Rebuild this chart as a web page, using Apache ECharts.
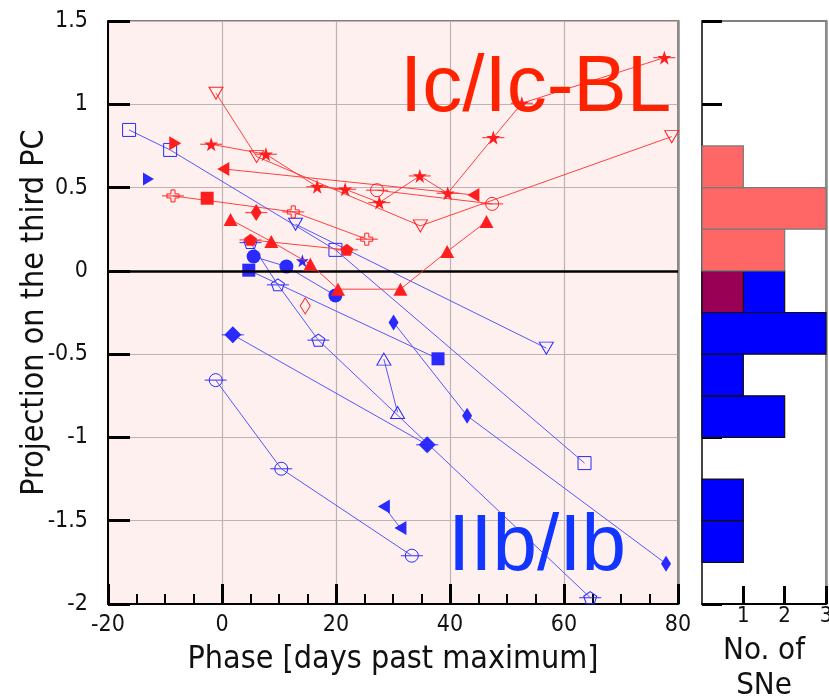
<!DOCTYPE html>
<html>
<head>
<meta charset="utf-8">
<script src="https://cdn.jsdelivr.net/npm/echarts@6/dist/echarts.min.js"></script>
<style>
  html, body { margin: 0; padding: 0; background: #ffffff; }
  #chart { width: 829px; height: 697px; }
</style>
</head>
<body>
<div id="chart"></div>
<script>
// ---- Ic / Ic-BL supernovae: [phase, projection on PC3] ----
const redStar        = [[-1.9, 0.76], [7.7, 0.70], [16.7, 0.505], [21.6, 0.49], [27.6, 0.41], [34.7, 0.57], [39.6, 0.466], [47.6, 0.80], [52.6, 1.006], [77.6, 1.28]];
const redTriDown     = [[-1.05, 1.066], [6.07, 0.686], [34.8, 0.27], [78.9, 0.806]];
const redOpenCircle  = [[27.2, 0.484], [47.4, 0.402]];
const redLeftTri     = [[0.23, 0.612], [44.1, 0.456]];
const redRightTri    = [[-8.2, 0.766]];
const redCross       = [[-8.6, 0.45], [12.5, 0.354], [25.4, 0.19]];
const redSquare      = [[-2.6, 0.436]];
const redDiamond     = [[6.0, 0.35]];
const redTriUp       = [[1.5, 0.308], [8.65, 0.176], [15.5, 0.04], [20.35, -0.11], [31.3, -0.11], [39.5, 0.116], [46.4, 0.296]];
const redPentagon    = [[5.0, 0.186], [21.9, 0.126]];
const redOpenDiamond = [[14.6, -0.21]];

// ---- IIb / Ib supernovae ----
const blueOpenSquare = [[-16.3, 0.846], [-9.1, 0.726], [19.9, 0.126], [63.6, -1.154]];
const blueRightTri   = [[-12.9, 0.552]];
const blueTriDown    = [[12.9, 0.28], [56.9, -0.464]];
const blueCircle     = [[5.55, 0.086], [11.3, 0.026], [19.9, -0.148]];
const blueSquare     = [[4.7, 0.004], [37.9, -0.528]];
const blueStar       = [[14.1, 0.06]];
const bluePentagon   = [[5.0, 0.17], [9.8, -0.084], [16.9, -0.416], [64.6, -1.962]];
const blueTriUp      = [[28.4, -0.53], [30.8, -0.85]];
const blueDiamondA   = [[1.9, -0.384], [36.0, -1.044]];
const blueDiamondB   = [[30.1, -0.31], [43.0, -0.87], [77.9, -1.758]];
const blueOpenCircle = [[-1.1, -0.656], [10.4, -1.188], [33.3, -1.71]];
const blueLeftTri    = [[28.4, -1.414], [31.3, -1.544]];

// ---- histogram of PC3 projections (bins of 0.25) ----
const binLow      = [-2, -1.75, -1.5, -1.25, -1, -0.75, -0.5, -0.25, 0, 0.25, 0.5, 0.75, 1, 1.25];
const binWidth    = 0.25;
const redCounts   = [0, 0, 0, 0, 0, 0, 0, 1, 2, 3, 1, 0, 0, 0];
const blueCounts  = [0, 1, 1, 0, 2, 1, 3, 2, 0, 0, 0, 0, 0, 0];

// ---- axes ----
const phaseTicks = { min: -20, max: 80, interval: 20 };
const pcTicks    = { min: -2, max: 1.5, interval: 0.5 };
const countTicks = [1, 2, 3];

const RED = '#ff1e1e', RED_LINE = 'rgba(255,45,45,0.9)';
const BLUE = '#2a2aff', BLUE_LINE = '#5757ff';
const FONT = "'DejaVu Sans Condensed', 'Liberation Sans Narrow', 'DejaVu Sans', sans-serif";

const SYM = {
  star: 'path://M50,0 L61.8,35.1 L98.1,35.1 L68.8,56.8 L79.4,91.9 L50,70.3 L20.6,91.9 L31.2,56.8 L1.9,35.1 L38.2,35.1 Z',
  pentagon: 'path://M50,0 L100,36.3 L80.9,95.1 L19.1,95.1 L0,36.3 Z',
  plus: 'path://M33,0 H67 V33 H100 V67 H67 V100 H33 V67 H0 V33 H33 Z',
  triDown: 'path://M0,0 H100 L50,87 Z',
  triUp: 'path://M50,0 L100,87 H0 Z',
  triLeft: 'path://M0,50 L87,0 V100 Z',
  triRight: 'path://M0,0 L87,50 L0,100 Z'
};

function track(data, symbol, size, color, lineColor, filled, z) {
  return {
    type: 'line', data: data, symbol: symbol, symbolSize: size,
    showAllSymbol: true, animation: false, silent: true,
    xAxisIndex: 0, yAxisIndex: 0, z: z,
    lineStyle: { color: lineColor, width: 1 },
    itemStyle: filled ? { color: color, borderWidth: 0 }
                      : { color: 'rgba(0,0,0,0)', borderColor: color, borderWidth: 1 }
  };
}
function phaseBars(data, color, z) {
  return {
    type: 'scatter', data: data, symbol: 'rect', symbolSize: [22, 1.2],
    itemStyle: { color: color }, xAxisIndex: 0, yAxisIndex: 0, z: z,
    animation: false, silent: true
  };
}

const histRows = binLow.map((lo, i) => [lo, lo + binWidth, redCounts[i], blueCounts[i]]);

function renderHist(params, api) {
  const lo = api.value(0), hi = api.value(1), r = api.value(2), b = api.value(3);
  const kids = [];
  function box(count, fill, stroke) {
    const p0 = api.coord([0, hi]);
    const p1 = api.coord([count, lo]);
    kids.push({ type: 'rect',
      shape: { x: p0[0], y: p0[1], width: p1[0] - p0[0], height: p1[1] - p0[1] },
      style: { fill: fill, stroke: stroke, lineWidth: 1.2 } });
  }
  if (r > 0) box(r, '#ff6666', '#7a7a7a');
  if (b > 0) box(b, '#0000ff', '#111111');
  if (r > 0 && b > 0) box(Math.min(r, b), '#990055', '#111111');
  return { type: 'group', children: kids };
}

const chart = echarts.init(document.getElementById('chart'), null, { renderer: 'canvas' });

const series = [
  // IIb/Ib
  phaseBars(bluePentagon, BLUE, 3),
  phaseBars(blueOpenCircle, BLUE, 3),
  phaseBars(blueDiamondA, BLUE, 3),
  track(blueOpenSquare, 'rect', 13, BLUE, BLUE_LINE, false, 4),
  track(blueRightTri, SYM.triRight, [11, 13], BLUE, BLUE_LINE, true, 4),
  track(blueTriDown, SYM.triDown, [14, 12], BLUE, BLUE_LINE, false, 4),
  track(blueCircle, 'circle', 14, BLUE, BLUE_LINE, true, 4),
  track(blueSquare, 'rect', 13, BLUE, BLUE_LINE, true, 4),
  track(blueStar, SYM.star, 13, BLUE, BLUE_LINE, true, 4),
  track(bluePentagon, SYM.pentagon, [13, 12], BLUE, BLUE_LINE, false, 4),
  track(blueTriUp, SYM.triUp, [14, 12], BLUE, BLUE_LINE, false, 4),
  track(blueDiamondA, 'diamond', [17, 17], BLUE, BLUE_LINE, true, 4),
  track(blueDiamondB, 'diamond', [10, 16], BLUE, BLUE_LINE, true, 4),
  track(blueOpenCircle, 'circle', 13, BLUE, BLUE_LINE, false, 4),
  track(blueLeftTri, SYM.triLeft, [12, 14], BLUE, BLUE_LINE, true, 4),
  // Ic/Ic-BL
  phaseBars(redStar, RED, 5),
  phaseBars(redOpenCircle, RED, 5),
  phaseBars(redCross, RED, 5),
  phaseBars(redDiamond, RED, 5),
  phaseBars(redPentagon, RED, 5),
  track(redStar, SYM.star, 14, RED, RED_LINE, true, 6),
  track(redTriDown, SYM.triDown, [14, 12], RED, RED_LINE, false, 6),
  track(redOpenCircle, 'circle', 13, RED, RED_LINE, false, 6),
  track(redLeftTri, SYM.triLeft, [12, 14], RED, RED_LINE, true, 6),
  track(redRightTri, SYM.triRight, [12, 14], RED, RED_LINE, true, 6),
  track(redCross, SYM.plus, 12, RED, RED_LINE, false, 6),
  track(redSquare, 'rect', 13, RED, RED_LINE, true, 6),
  track(redDiamond, 'diamond', [11, 17], RED, RED_LINE, true, 6),
  track(redTriUp, SYM.triUp, [14, 13], RED, RED_LINE, true, 6),
  track(redPentagon, SYM.pentagon, [13, 12], RED, RED_LINE, true, 6),
  track(redOpenDiamond, 'diamond', [10, 16], RED, RED_LINE, false, 6),
  // zero line
  {
    type: 'line', data: [], xAxisIndex: 0, yAxisIndex: 0, z: 2,
    markLine: { silent: true, symbol: 'none', animation: false, label: { show: false },
      lineStyle: { color: '#000', width: 2.5, type: 'solid' }, data: [{ yAxis: 0 }] }
  },
  // histogram
  {
    type: 'custom', xAxisIndex: 1, yAxisIndex: 2, data: histRows,
    renderItem: renderHist, animation: false, silent: true, z: 2,
    encode: { x: [2, 3], y: [0, 1] }
  }
];

chart.setOption({
  animation: false,
  backgroundColor: '#ffffff',
  textStyle: { fontFamily: FONT },
  grid: [
    { left: 108, top: 21, width: 570, height: 583, show: true, containLabel: false,
      outerBoundsMode: 'none',
      backgroundColor: '#fdf0ee', borderColor: '#000', borderWidth: 1 },
    { left: 702, top: 21, width: 124, height: 583, show: true, containLabel: false,
      outerBoundsMode: 'none',
      backgroundColor: '#ffffff', borderColor: '#000', borderWidth: 1 }
  ],
  xAxis: [
    { type: 'value', gridIndex: 0, min: phaseTicks.min, max: phaseTicks.max, interval: phaseTicks.interval,
      name: 'Phase [days past maximum]', nameLocation: 'middle', nameGap: 40, nameMoveOverlap: false,
      nameTextStyle: { fontSize: 32, color: '#111', fontFamily: FONT },
      axisLine: { onZero: false, lineStyle: { color: '#000', width: 2 } },
      axisTick: { inside: true, length: 20, lineStyle: { color: '#000', width: 3 } },
      minorTick: { show: true, splitNumber: 4, length: 10, lineStyle: { color: '#000', width: 2 } },
      axisLabel: { fontSize: 23, color: '#111', margin: 10, fontFamily: FONT },
      splitLine: { show: true, lineStyle: { color: '#bdb3b3', width: 1.2 } } },
    { type: 'value', gridIndex: 1, min: 0, max: 3,
      name: 'No. of\nSNe', nameLocation: 'middle', nameGap: 29, nameMoveOverlap: false,
      nameTextStyle: { fontSize: 31, color: '#111', lineHeight: 35, fontFamily: FONT },
      axisLine: { onZero: false, lineStyle: { color: '#000', width: 2 } },
      axisTick: { inside: true, length: 18, customValues: countTicks, lineStyle: { color: '#000', width: 3 } },
      axisLabel: { fontSize: 22, color: '#111', margin: 1, customValues: countTicks, fontFamily: FONT },
      splitLine: { show: false } }
  ],
  yAxis: [
    { type: 'value', gridIndex: 0, min: pcTicks.min, max: pcTicks.max, interval: pcTicks.interval,
      name: 'Projection on the third PC', nameLocation: 'middle', nameGap: 57, nameMoveOverlap: false,
      nameTextStyle: { fontSize: 32, color: '#111', fontFamily: FONT },
      axisLine: { onZero: false, lineStyle: { color: '#000', width: 2 } },
      axisTick: { inside: true, length: 22, lineStyle: { color: '#000', width: 3 } },
      axisLabel: { fontSize: 23, color: '#111', margin: 20, fontFamily: FONT },
      splitLine: { show: true, lineStyle: { color: '#bdb3b3', width: 1.2 } } },
    { type: 'value', gridIndex: 0, position: 'right', min: pcTicks.min, max: pcTicks.max,
      axisLine: { show: true, onZero: false, lineStyle: { color: '#8c8c8c', width: 2.5 } },
      axisTick: { show: false }, axisLabel: { show: false }, splitLine: { show: false } },
    { type: 'value', gridIndex: 1, min: pcTicks.min, max: pcTicks.max, interval: pcTicks.interval,
      axisLine: { onZero: false, lineStyle: { color: '#444', width: 2 } },
      axisTick: { inside: true, length: 20, lineStyle: { color: '#000', width: 3 } },
      axisLabel: { show: false }, splitLine: { show: false } },
    { type: 'value', gridIndex: 1, position: 'right', min: pcTicks.min, max: pcTicks.max,
      axisLine: { show: true, onZero: false, lineStyle: { color: '#8c8c8c', width: 2.5 } },
      axisTick: { show: false }, axisLabel: { show: false }, splitLine: { show: false } }
  ],
  graphic: [
    { type: 'text', x: 400, y: 49, z: 50, silent: true,
      style: { text: 'Ic/Ic-BL', fill: '#ff2200', font: "80px 'Liberation Sans', Arial, sans-serif",
               verticalAlign: 'top' } },
    { type: 'text', x: 448, y: 508, z: 50, silent: true,
      style: { text: 'IIb/Ib', fill: '#1236ff', font: "80px 'Liberation Sans', Arial, sans-serif",
               verticalAlign: 'top' } }
  ],
  series: series
});
</script>
</body>
</html>
